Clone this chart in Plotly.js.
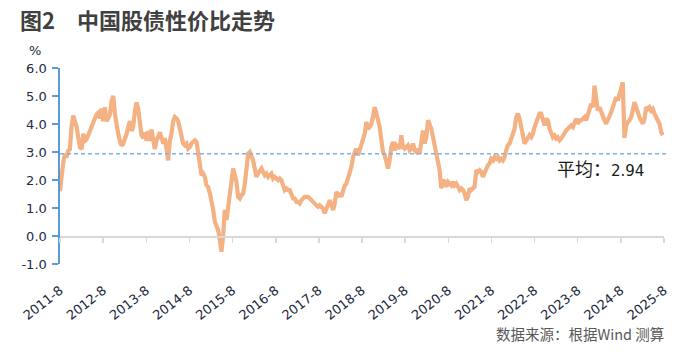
<!DOCTYPE html>
<html><head><meta charset="utf-8">
<script src="https://cdn.plot.ly/plotly-3.0.1.min.js"></script>
<style>html,body{margin:0;padding:0;background:#fff;}#chart{width:693px;height:354px;}</style>
</head><body><div id="chart"></div>
<script>
// ---- data ----
const startDate = '2011-08-01';
const stepDays = 14.1; // roughly bi-weekly sampling
const seg2011 = [1.6,2.3,2.65,2.93,2.8,3.05,3.1,3.9,4.3,4.1,3.9,3.5,3.17,3.1,3.65,3.4,3.45,3.6,3.75,3.9,4.05,4.25,4.35,4.4,4.2,4.55,4.1,4.6,4.1,4.2,4.35,4.83,5.0,4.35,3.9,3.65,3.4,3.23,3.3,3.45,3.65,3.9,4.1,3.75,3.9,4.45,4.77,4.55,4.0,3.6,3.5,3.7,3.4,3.75,3.4,3.8,3.45,3.1,3.4,3.6,3.7,3.5,3.3,3.5,3.05,2.7,3.4,3.65,4.1,4.25,4.2,4.1];
const seg2014 = [3.83,3.53,3.3,3.24,3.3,3.12,3.18,3.3,3.36,3.42,3.36,2.94,2.35,2.17,2.23,2.11,1.81,1.75,1.52,1.28,0.93,0.51,0.39,0.21,-0.14,-0.56,-0.02,0.93,0.57,1.04,1.58,2.11,2.41,2.17,1.93,1.4,1.34,1.46,1.52,1.87,2.47,2.94,3.0,2.88,2.7,2.41,2.11,2.23,2.35,2.41,2.29,2.17,2.23,2.11,2.17,2.23,2.05,2.11,2.05,1.99,2.05,1.99,1.81,1.64,1.7,1.64,1.64,1.46,1.34,1.34,1.22,1.22,1.16];
const seg2017 = [1.28,1.34,1.4,1.4,1.4,1.34,1.28,1.22,1.16,1.1,1.04,1.1,1.04,0.98,0.81,0.98,1.22,1.28,1.1,0.93,1.16,1.58,1.4,1.52,1.4,1.7,1.81,1.87,2.05,2.17,2.47,2.82,2.94,3.12,2.88,3.12,3.3,3.42,3.65,4.07,3.83,3.89,4.0,4.25,4.6,4.37,4.13,3.89,3.42,3.0,2.88,2.7,2.41,2.7,3.18,3.36,3.06,3.24,3.18,3.12,3.6,3.18,3.12,3.18,3.24,3.06,3.12,3.3,3.06,3.0,3.12];
const seg2020 = [2.94,3.3,3.77,3.3,3.53,4.13,4.01,3.83,3.53,3.24,3.0,2.76,2.35,1.7,1.99,1.93,1.76,1.93,1.87,1.81,1.93,1.81,1.87,1.76,1.64,1.7,1.64,1.52,1.28,1.4,1.7,1.64,1.7,1.76,2.35,2.29,2.35,2.29,2.11,2.29,2.41,2.53,2.59,2.76,2.7,2.82,2.76,2.82,2.7,2.76,2.7,2.82,3.06,3.24,3.3,3.48,3.71,3.83,4.25,4.37,4.19,3.77,3.6,3.3,3.42,3.48,3.6,3.53,3.65,3.89,4.07,4.25,4.37];
const seg2022 = [4.37,4.07,3.95,4.19,4.13,3.83,3.65,3.53,3.59,3.48,3.53,3.42,3.48,3.59,3.71,3.77,3.83,3.89,3.95,3.89,4.01,4.19,4.01,4.13,4.13,4.19,4.25,4.13,4.37,4.54,4.72,4.6,5.37,4.9,4.48,4.6,4.42,4.31,4.13,4.01,4.13,4.31,4.42,4.6,4.84,4.96,4.84,5.08,5.37,5.49,3.5,3.95,4.07,4.13,4.25,4.6,4.78,4.6,4.37,4.25,4.13,4.01,4.19,4.6,4.54,4.6,4.48,4.54,4.37,4.25,4.13,4.01,3.71,3.6];
const meanValue = 2.94;
const tickDates = ['2011-08-01','2012-08-01','2013-08-01','2014-08-01','2015-08-01','2016-08-01','2017-08-01','2018-08-01','2019-08-01','2020-08-01','2021-08-01','2022-08-01','2023-08-01','2024-08-01','2025-08-01'];
const tickLabels = ['2011-8','2012-8','2013-8','2014-8','2015-8','2016-8','2017-8','2018-8','2019-8','2020-8','2021-8','2022-8','2023-8','2024-8','2025-8'];
const yTickVals = [-1,0,1,2,3,4,5,6];
const yTickText = ['-1.0','0.0','1.0','2.0','3.0','4.0','5.0','6.0'];

// ---- build ----
const values = [].concat(seg2011, seg2014, seg2017, seg2020, seg2022);
const t0 = Date.parse(startDate + 'T00:00:00Z');
const dates = values.map((v, i) => new Date(t0 + i * stepDays * 86400000).toISOString().slice(0, 10));

const tickFont = {family: 'DejaVu Sans', size: 13, color: '#232a3f'};

const traces = [
  {x: dates, y: values, type: 'scatter', mode: 'lines', line: {color: '#f4b183', width: 4.2}, hoverinfo: 'skip', showlegend: false},
  {x: [tickDates[0], tickDates[tickDates.length - 1]], y: [null, null], xaxis: 'x2', type: 'scatter', mode: 'lines', hoverinfo: 'skip', showlegend: false}
];

const layout = {
  width: 693, height: 354,
  margin: {l: 60, r: 29, t: 68, b: 90},
  paper_bgcolor: '#fff', plot_bgcolor: '#fff',
  showlegend: false,
  title: {text: '图2　中国股债性价比走势', xref: 'container', yref: 'container', x: 20/693, xanchor: 'left', y: 1 - 21/354, yanchor: 'middle',
          font: {family: 'Noto Sans CJK SC', size: 22, color: '#404040', weight: 'bold'}},
  xaxis: {type: 'date', range: [tickDates[0], tickDates[tickDates.length - 1]], tickmode: 'array', tickvals: tickDates, ticktext: tickLabels,
          tickangle: -38, ticks: 'outside', ticklen: 13, tickcolor: 'rgba(0,0,0,0)', showline: false, showgrid: false, zeroline: false,
          tickfont: tickFont, fixedrange: true},
  xaxis2: {type: 'date', overlaying: 'x', anchor: 'free', position: 1/7, range: [tickDates[0], tickDates[tickDates.length - 1]],
           tickmode: 'array', tickvals: tickDates, showticklabels: false, ticks: 'outside', ticklen: 5, tickwidth: 1.5, tickcolor: '#d9d9d9',
           showline: true, linecolor: '#d9d9d9', linewidth: 1.5, showgrid: false, zeroline: false, fixedrange: true},
  yaxis: {range: [-1, 6], tickmode: 'array', tickvals: yTickVals, ticktext: yTickText, ticks: 'outside', ticklen: 6, tickwidth: 1.5,
          tickcolor: '#5b9bd5', showline: true, linecolor: '#5b9bd5', linewidth: 1.6, showgrid: false, zeroline: false,
          tickfont: tickFont, ticklabelstandoff: 3, fixedrange: true},
  shapes: [{type: 'line', xref: 'paper', x0: 0, x1: 1.008, yref: 'y', y0: meanValue, y1: meanValue, layer: 'above',
            line: {color: '#7fb2e5', width: 1.4, dash: '4px,3px'}}],
  annotations: [
    {text: '%', xref: 'paper', yref: 'paper', x: (35 - 60) / 604, y: (264 - 51) / 196, xanchor: 'center', yanchor: 'middle', showarrow: false,
     font: {family: 'DejaVu Sans', size: 13, color: '#232a3f'}},
    {text: '平均：<span style="font-family:DejaVu Sans;font-size:15px">' + meanValue.toFixed(2) + '</span>', xref: 'paper', yref: 'y',
     x: (555 - 60) / 604, y: meanValue, yshift: -14, xanchor: 'left', yanchor: 'middle', showarrow: false,
     font: {family: 'Noto Sans CJK SC', size: 18, color: '#1a1a1a'}},
    {text: '数据来源：根据Wind 测算', xref: 'paper', yref: 'paper', x: (666 - 60) / 604, y: (264 - 333) / 196, xanchor: 'right', yanchor: 'middle',
     showarrow: false, font: {family: 'Noto Sans CJK SC', size: 14.5, color: '#595959'}}
  ]
};

Plotly.newPlot('chart', traces, layout, {displayModeBar: false, staticPlot: true});
</script>
</body></html>
